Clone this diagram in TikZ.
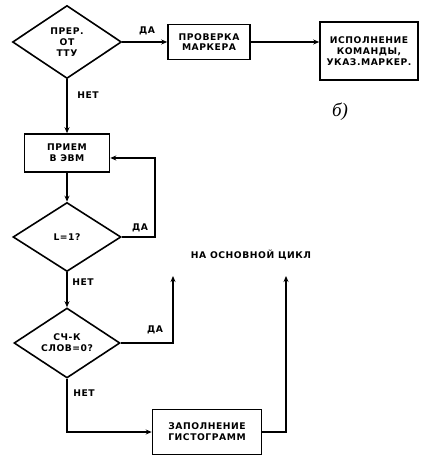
\documentclass[tikz,border=0pt]{standalone}
\usepackage{fontspec}
\setmainfont{DejaVu Sans}[LetterSpace=6]
\newfontfamily\hand{Liberation Serif}
\usetikzlibrary{shapes.geometric,arrows.meta}
\begin{document}
\begin{tikzpicture}[x=1pt,y=-1pt,
  every node/.style={font=\fontsize{9.2}{10.8}\selectfont\bfseries},
  blk/.style={draw,line width=1.6pt,rectangle,inner sep=1pt,align=center},
  dec/.style={draw,line width=1.6pt,diamond,inner sep=0pt,align=center},
  lbl/.style={inner sep=0pt},
  ar/.style={line width=1.4pt,-{Stealth[length=6pt,width=5pt]}}]
\useasboundingbox (0,0) rectangle (434,462);
\node[dec,minimum width=109pt,minimum height=73pt] (d1) at (67,42) {ПРЕР.\\ОТ\\ТТУ};
\node[blk,minimum width=82pt,minimum height=35pt] (b1) at (209,42) {ПРОВЕРКА\\МАРКЕРА};
\node[blk,minimum width=98pt,minimum height=58pt] (b2) at (369,51) {ИСПОЛНЕНИЕ\\КОМАНДЫ,\\УКАЗ.МАРКЕР.};
\node[lbl,font=\hand\itshape\fontsize{19}{19}\selectfont] (bb) at (340,112) {б)};
\node[blk,minimum width=85pt,minimum height=38pt] (b3) at (67,153) {ПРИЕМ\\В ЭВМ};
\node[dec,minimum width=108pt,minimum height=69pt] (d2) at (67,237) {L=1?};
\node[dec,minimum width=106pt,minimum height=70pt] (d3) at (67,343) {СЧ-К\\СЛОВ=0?};
\node[blk,minimum width=109pt,minimum height=45pt] (b4) at (207,432) {ЗАПОЛНЕНИЕ\\ГИСТОГРАММ};
\node[lbl] (t1) at (147,31) {ДА};
\node[lbl] (t2) at (88,95) {НЕТ};
\node[lbl] (t3) at (140,228) {ДА};
\node[lbl] (t4) at (83,282) {НЕТ};
\node[lbl] (t5) at (155,330) {ДА};
\node[lbl] (t6) at (84,393) {НЕТ};
\node[lbl] (main) at (251,255) {НА ОСНОВНОЙ ЦИКЛ};
\coordinate (u1) at (173,276);
\coordinate (u2) at (286,276);
\draw[ar] (d1.east) -- (b1.west);
\draw[ar] (b1.east) -- (b1.east -| b2.west);
\draw[ar] (d1.south) -- (b3.north);
\draw[ar] (b3.south) -- (d2.north);
\draw[ar] (d2.east) -- (155,237) |- ([yshift=-5pt]b3.east);
\draw[ar] (d2.south) -- (d3.north);
\draw[ar] (d3.east) -| (u1);
\draw[ar] (d3.south) |- (b4.west);
\draw[ar] (b4.east) -| (u2);
\end{tikzpicture}
\end{document}
